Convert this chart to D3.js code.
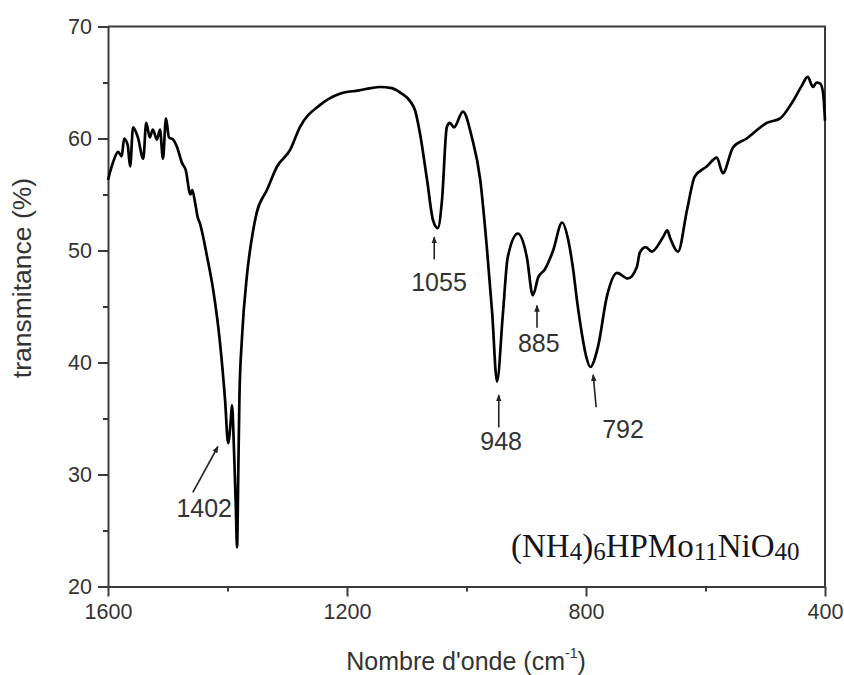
<!DOCTYPE html>
<html><head><meta charset="utf-8">
<script src="https://cdn.jsdelivr.net/npm/d3@7"></script>
<style>body{margin:0;background:#fff}svg{display:block}</style>
</head><body>
<svg id="c" width="844" height="675"></svg>
<script>
// ---- data ----
const wavenumber = [1600,1592,1583,1577,1573,1567,1563,1558,1550,1541,1536,1530,1525,1518,1513,1508,1503,1498,1491,1485,1476,1470,1462,1459,1454,1450,1446,1434,1424,1413,1404,1399,1395,1392.5,1389,1386,1384,1382,1380,1376,1367,1358,1351,1334,1317,1295,1279,1245,1212,1180,1160,1145,1125,1111,1094,1086,1078,1066,1056,1048,1041,1033,1028,1021,1006,991,977,966,957,949,939,931,914,899,889,880,869,855,840,830,822,815,807,800,793,780,765,748,730,715,710,700,690,671,664,659,646,631,618,598,581,571,554,531,497,475,454,439,429,420,414,408,403,400];
const transmittance = [56.3,57.8,58.8,58.4,60.0,59.4,57.5,61.0,60.1,58.2,61.4,60.1,60.8,59.9,60.8,58.2,61.8,60.1,59.9,59.3,57.8,57.2,55.0,55.4,54.2,53.0,52.4,49.4,46.5,42.0,36.6,32.8,34.5,36.2,32,27,23.5,30,37,42,48,51.5,53.4,55.4,57.5,59.0,61.0,63.0,64.0,64.3,64.5,64.6,64.5,64.1,63.3,62.5,60.5,56.3,52.7,52.0,54.5,61.0,61.4,61.0,62.4,60.1,56.3,50.3,44.4,38.3,44.4,49.4,51.5,49.4,46.0,47.6,48.3,50.0,52.5,51.0,48.5,45.5,42.6,40.6,39.6,41.4,45.9,48.0,47.5,48.5,49.8,50.3,49.9,51.2,51.8,51.1,49.9,53.6,56.6,57.5,58.3,56.9,59.2,60.0,61.4,61.8,63.3,64.7,65.5,64.6,65.0,64.9,64.0,61.6];

const xTicks = [1600, 1200, 800, 400];
const xMinorTicks = [1400, 1000, 600];
const yTicks = [20, 30, 40, 50, 60, 70];
const yMinorTicks = [25, 35, 45, 55, 65];

const peakLabels = ["1402", "1055", "948", "885", "792"];
const labelW = [1439, 1046, 942, 879, 738];
const labelT = [26.2, 46.4, 32.2, 40.9, 33.3];
const arrowTailW = [1458, 1054, 946, 882, 783];
const arrowTailT = [28.4, 49.2, 34.2, 43.1, 36.0];
const arrowHeadW = [1416, 1054, 946, 882, 788];
const arrowHeadT = [32.5, 51.2, 37.1, 45.1, 38.9];

const xTitle = "Nombre d'onde (cm";
const yTitle = "transmitance (%)";

// ---- layout ----
const L = 108, R = 825, T = 26.5, B = 586.5;
const svg = d3.select("#c");
const x = d3.scaleLinear().domain([1600, 400]).range([L, R]);
const y = d3.scaleLinear().domain([20, 70]).range([B, T]);
const axisColor = "#3a3a3a";
const textColor = "#333";
const font = "'Liberation Sans', Arial, sans-serif";

// frame top/right
svg.append("path")
  .attr("d", `M${L},${T}H${R}V${B}`)
  .attr("fill", "none").attr("stroke", axisColor).attr("stroke-width", 2);

function styleAxis(g) {
  g.select(".domain").attr("stroke", axisColor).attr("stroke-width", 2);
  g.selectAll(".tick line").attr("stroke", axisColor).attr("stroke-width", 2);
  g.selectAll(".tick text").attr("fill", textColor)
    .style("font-family", font).style("font-size", "21.5px");
}

// bottom axis
const gx = svg.append("g").attr("transform", `translate(0,${B})`)
  .call(d3.axisBottom(x).tickValues(xTicks).tickFormat(d3.format("d"))
    .tickSize(10).tickSizeOuter(0).tickPadding(7));
styleAxis(gx);
const gxm = svg.append("g").attr("transform", `translate(0,${B})`)
  .call(d3.axisBottom(x).tickValues(xMinorTicks).tickFormat("").tickSize(5).tickSizeOuter(0));
styleAxis(gxm);
gxm.select(".domain").remove();

// left axis
const gy = svg.append("g").attr("transform", `translate(${L},0)`)
  .call(d3.axisLeft(y).tickValues(yTicks).tickFormat(d3.format("d"))
    .tickSize(10).tickSizeOuter(0).tickPadding(6));
styleAxis(gy);
const gym = svg.append("g").attr("transform", `translate(${L},0)`)
  .call(d3.axisLeft(y).tickValues(yMinorTicks).tickFormat("").tickSize(5).tickSizeOuter(0));
styleAxis(gym);
gym.select(".domain").remove();

// spectrum
const pts = wavenumber.map((w, i) => [w, transmittance[i]]);
svg.append("path")
  .datum(pts)
  .attr("fill", "none").attr("stroke", "#000").attr("stroke-width", 2.7)
  .attr("stroke-linejoin", "round")
  .attr("d", d3.line().x(d => x(d[0])).y(d => y(d[1])).curve(d3.curveMonotoneX));

// annotations
const defs = svg.append("defs");
defs.append("marker").attr("id", "ah").attr("viewBox", "0 0 10 10")
  .attr("refX", 9).attr("refY", 5).attr("markerWidth", 7).attr("markerHeight", 7)
  .attr("orient", "auto-start-reverse").attr("markerUnits", "userSpaceOnUse")
  .append("path").attr("d", "M0,1L10,5L0,9Z").attr("fill", "#222");

peakLabels.forEach((lab, i) => {
  svg.append("line")
    .attr("x1", x(arrowTailW[i])).attr("y1", y(arrowTailT[i]))
    .attr("x2", x(arrowHeadW[i])).attr("y2", y(arrowHeadT[i]))
    .attr("stroke", "#222").attr("stroke-width", 1.6)
    .attr("marker-end", "url(#ah)");
  svg.append("text")
    .attr("x", x(labelW[i])).attr("y", y(labelT[i]))
    .attr("text-anchor", "middle")
    .attr("fill", textColor)
    .style("font-family", font).style("font-size", "25px")
    .text(lab);
});

// formula
const ft = svg.append("text").attr("x", 511).attr("y", 557)
  .attr("fill", "#141420")
  .style("font-family", "'Liberation Serif', 'Times New Roman', serif")
  .style("font-size", "33px");
const parts = [["(NH", false], ["4", true], [")", false], ["6", true], ["HPMo", false], ["11", true], ["NiO", false], ["40", true]];
let prevSub = false;
parts.forEach(([t, sub]) => {
  const dy = sub && !prevSub ? 3 : (!sub && prevSub ? -3 : 0);
  ft.append("tspan").text(t)
    .style("font-size", sub ? "25px" : "33px")
    .attr("dy", dy);
  prevSub = sub;
});

// axis titles
const xt = svg.append("text").attr("x", 466).attr("y", 670).attr("text-anchor", "middle")
  .attr("fill", textColor).style("font-family", font).style("font-size", "25px");
xt.append("tspan").text(xTitle);
xt.append("tspan").text("-1").style("font-size", "14px").attr("dy", -12);
xt.append("tspan").text(")").attr("dy", 12);

svg.append("text")
  .attr("transform", "translate(31,278) rotate(-90)")
  .attr("text-anchor", "middle")
  .attr("fill", textColor).style("font-family", font).style("font-size", "26.5px")
  .text(yTitle);
</script>
</body></html>
